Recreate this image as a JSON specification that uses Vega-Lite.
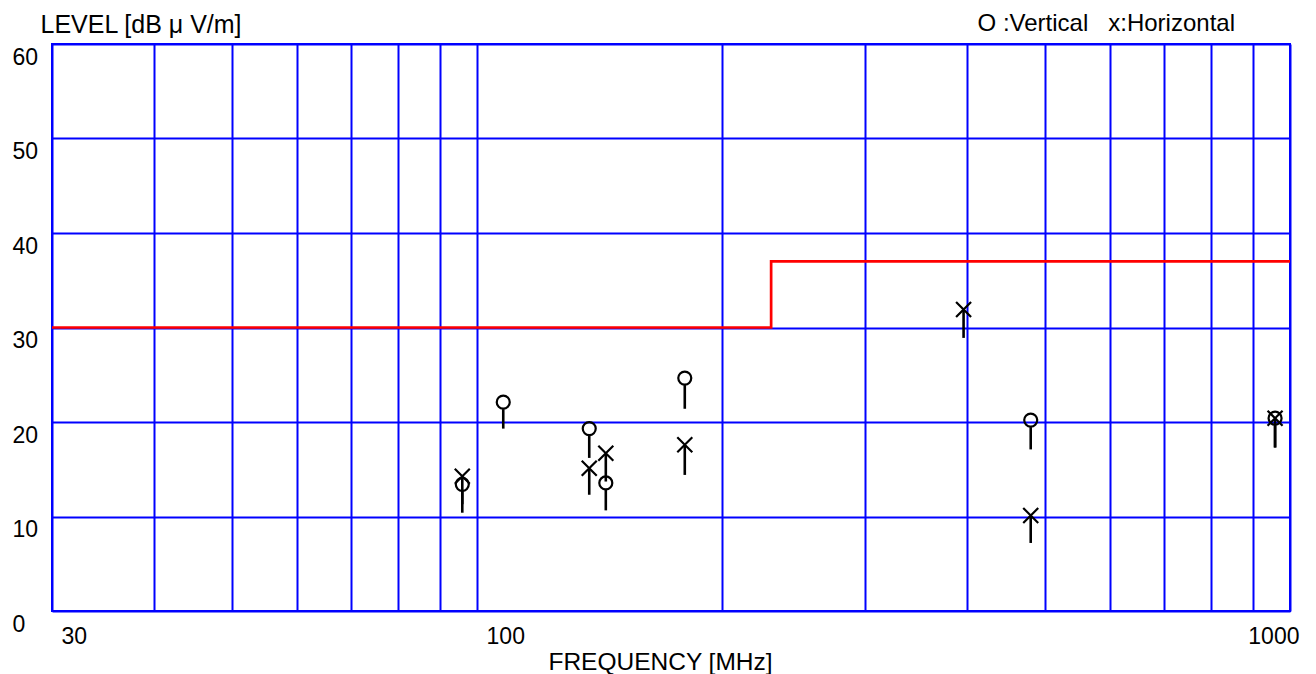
{
  "$schema": "https://vega.github.io/schema/vega-lite/v6.json",
  "width": 1238,
  "height": 567,
  "autosize": {"type": "none"},
  "padding": {"left": 52, "top": 44, "right": 26, "bottom": 63},
  "background": "white",
  "config": {"view": {"stroke": "#0000ff", "strokeWidth": 2}, "font": "Liberation Sans"},
  "title": {"text": "O :Vertical\u00a0\u00a0 x:Horizontal", "anchor": "end", "orient": "top", "frame": "group", "offset": -43, "dx": -55, "fontSize": 24, "fontWeight": "normal", "font": "Liberation Sans", "color": "black", "baseline": "alphabetic"},
  "datasets": {
    "pts": [
      {"freq": 95.9, "level": 13.4, "stem": 10.4, "pol": "V"},
      {"freq": 95.9, "level": 14.25, "stem": 11.3, "pol": "H"},
      {"freq": 107.7, "level": 22.1, "stem": 19.3, "pol": "V"},
      {"freq": 137.4, "level": 19.3, "stem": 16.2, "pol": "V"},
      {"freq": 137.4, "level": 15.1, "stem": 12.3, "pol": "H"},
      {"freq": 144.0, "level": 16.7, "stem": 13.7, "pol": "H"},
      {"freq": 144.0, "level": 13.55, "stem": 10.65, "pol": "V"},
      {"freq": 180.1, "level": 24.65, "stem": 21.4, "pol": "V"},
      {"freq": 180.1, "level": 17.6, "stem": 14.4, "pol": "H"},
      {"freq": 396.7, "level": 31.9, "stem": 28.9, "pol": "H"},
      {"freq": 479.8, "level": 20.2, "stem": 17.1, "pol": "V"},
      {"freq": 479.8, "level": 10.1, "stem": 7.2, "pol": "H"},
      {"freq": 958.6, "level": 20.4, "stem": 17.3, "pol": "V"},
      {"freq": 958.6, "level": 20.4, "stem": 17.3, "pol": "H"}
    ],
    "limit": [
      {"freq": 30, "level": 30},
      {"freq": 230, "level": 37},
      {"freq": 1000, "level": 37}
    ]
  },
  "encoding": {
    "x": {
      "field": "freq", "type": "quantitative",
      "scale": {"type": "log", "domain": [30, 1000], "nice": false},
      "axis": {
        "values": [30, 40, 50, 60, 70, 80, 90, 100, 200, 300, 400, 500, 600, 700, 800, 900, 1000],
        "grid": true, "gridColor": "#0000ff", "gridWidth": 2, "gridOpacity": 1,
        "domain": false, "ticks": false, "tickSize": 0,
        "labelExpr": "(datum.value == 30 || datum.value == 100 || datum.value == 1000) ? '' + datum.value : ''",
        "labelAlign": {"condition": {"test": "datum.value == 1000", "value": "right"}, "value": "left"},
        "labelOffset": 9,
        "labelBaseline": "top", "labelPadding": 14,
        "labelFontSize": 23, "labelColor": "black",
        "labelFlush": false, "labelOverlap": false, "labelBound": false,
        "title": "FREQUENCY [MHz]", "titleFontSize": 24.5, "titleFontWeight": "normal", "titleColor": "black",
        "titleX": 608, "titleY": 51, "titleBaseline": "middle", "titleAlign": "center"
      }
    },
    "y": {
      "field": "level", "type": "quantitative",
      "scale": {"domain": [0, 60], "nice": false},
      "axis": {
        "values": [0, 10, 20, 30, 40, 50, 60],
        "grid": true, "gridColor": "#0000ff", "gridWidth": 2, "gridOpacity": 1,
        "domain": false, "ticks": false, "tickSize": 0,
        "labelAlign": "left", "labelBaseline": "middle", "labelPadding": 40, "labelOffset": 13,
        "labelFontSize": 23, "labelColor": "black",
        "labelFlush": false, "labelOverlap": false, "labelBound": false,
        "title": "LEVEL [dB μ V/m]", "titleAngle": 0, "titleAlign": "left", "titleBaseline": "middle",
        "titleX": -12, "titleY": -20, "titleFontSize": 25, "titleFontWeight": "normal", "titleColor": "black"
      }
    }
  },
  "layer": [
    {
      "data": {"name": "limit"},
      "mark": {"type": "line", "color": "#ff0000", "strokeWidth": 2.7, "interpolate": "step-after"},
      "encoding": {}
    },
    {
      "data": {"name": "pts"},
      "transform": [{"filter": "datum.pol == 'H'"}],
      "mark": {"type": "rule", "color": "black", "strokeWidth": 2.6},
      "encoding": {"y2": {"field": "stem"}}
    },
    {
      "data": {"name": "pts"},
      "transform": [{"filter": "datum.pol == 'V'"}],
      "mark": {"type": "rule", "color": "black", "strokeWidth": 2.6, "yOffset": 7},
      "encoding": {"y2": {"field": "stem"}}
    },
    {
      "data": {"name": "pts"},
      "transform": [{"filter": "datum.pol == 'V'"}],
      "mark": {"type": "point", "shape": "circle", "filled": false, "stroke": "black", "strokeWidth": 2.2, "size": 169, "opacity": 1},
      "encoding": {}
    },
    {
      "data": {"name": "pts"},
      "transform": [{"filter": "datum.pol == 'H'"}],
      "mark": {"type": "point", "shape": "M-1,-1L1,1M-1,1L1,-1", "filled": false, "stroke": "black", "strokeWidth": 2.2, "size": 225, "opacity": 1},
      "encoding": {}
    }
  ]
}
